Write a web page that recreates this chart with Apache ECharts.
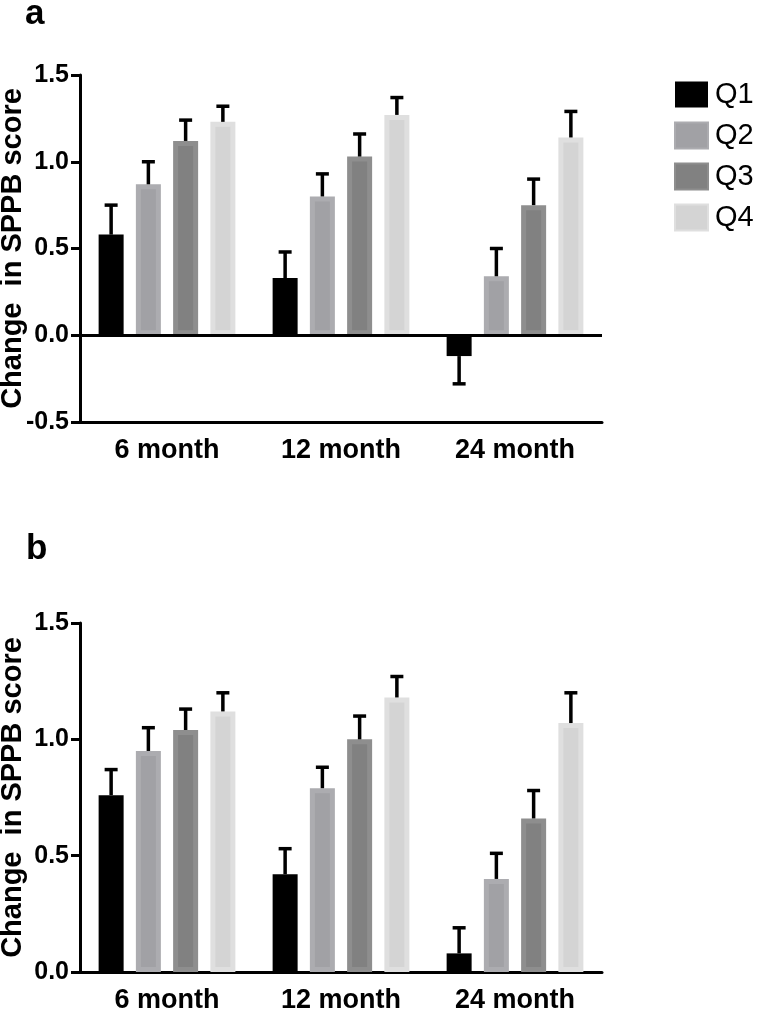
<!DOCTYPE html>
<html>
<head>
<meta charset="utf-8">
<script src="https://cdn.jsdelivr.net/npm/echarts@6/dist/echarts.min.js"></script>
<style>
  html, body { margin: 0; padding: 0; background: #fff; }
  #chart { width: 757px; height: 1010px; }
</style>
</head>
<body>
<div id="chart"></div>
<script>
// categories and tick labels
var categories = ['6 month', '12 month', '24 month'];
var quartiles = ['Q1', 'Q2', 'Q3', 'Q4'];
var ticksA = [-0.5, 0.0, 0.5, 1.0, 1.5];
var ticksB = [0.0, 0.5, 1.0, 1.5];

// panel a: mean change and SE
var aQ1 = [0.58, 0.33, -0.12];
var aQ2 = [0.87, 0.80, 0.34];
var aQ3 = [1.12, 1.03, 0.75];
var aQ4 = [1.23, 1.27, 1.14];
var aQ1Err = [0.17, 0.15, 0.16];
var aQ2Err = [0.13, 0.13, 0.16];
var aQ3Err = [0.12, 0.13, 0.15];
var aQ4Err = [0.09, 0.10, 0.15];

// panel b
var bQ1 = [0.76, 0.42, 0.08];
var bQ2 = [0.95, 0.79, 0.40];
var bQ3 = [1.04, 1.00, 0.66];
var bQ4 = [1.12, 1.18, 1.07];
var bQ1Err = [0.11, 0.11, 0.11];
var bQ2Err = [0.10, 0.09, 0.11];
var bQ3Err = [0.09, 0.10, 0.12];
var bQ4Err = [0.08, 0.09, 0.13];

var FONT = 'Liberation Sans, Arial, sans-serif';
var fills = ['#000000', '#a1a1a5', '#818181', '#d4d4d4'];
var borders = ['#000000', '#acacb0', '#8e8e8e', '#dfdfdf'];
var BAR_W = 25;
var BAR_GAP = 0.49;              // as fraction of bar width
var STEP = BAR_W * (1 + BAR_GAP); // centre-to-centre distance of bars

var chart = echarts.init(document.getElementById('chart'));

function yAxisOf(gridIndex, min, max) {
    return {
        type: 'value',
        gridIndex: gridIndex,
        min: min,
        max: max,
        interval: 0.5,
        name: 'Change  in SPPB score',
        nameLocation: 'middle',
        nameGap: 53,
        nameMoveOverlap: false,
        nameTextStyle: { fontFamily: FONT, fontWeight: 'bold', fontSize: 29, color: '#000' },
        axisLine: { show: true, lineStyle: { color: '#000', width: 3 } },
        axisTick: { show: true, length: 9, lineStyle: { color: '#000', width: 3 } },
        axisLabel: {
            margin: 11,
            fontFamily: FONT, fontWeight: 'bold', fontSize: 25, color: '#000',
            formatter: function (v) { return v.toFixed(1); }
        },
        splitLine: { show: false }
    };
}

function xAxisOf(gridIndex) {
    return {
        type: 'category',
        gridIndex: gridIndex,
        data: categories,
        axisLine: { onZero: false, lineStyle: { color: '#000', width: 3 } },
        axisTick: { alignWithLabel: true, length: 10, lineStyle: { color: '#000', width: 3 } },
        axisLabel: { margin: 15, fontFamily: FONT, fontWeight: 'bold', fontSize: 27, color: '#000' },
        splitLine: { show: false }
    };
}

function barSeries(name, k, data, gridIndex) {
    return {
        name: name,
        type: 'bar',
        xAxisIndex: gridIndex,
        yAxisIndex: gridIndex,
        data: data,
        barWidth: BAR_W,
        barGap: (BAR_GAP * 100) + '%',
        itemStyle: { color: fills[k], borderColor: borders[k], borderWidth: k === 0 ? 0 : 5 },
        emphasis: { disabled: true },
        z: 2
    };
}

// error bars drawn one-sided, away from zero
function errSeries(k, means, errs, gridIndex) {
    var data = means.map(function (m, i) { return [i, m, errs[i]]; });
    return {
        type: 'custom',
        name: 'err' + gridIndex + k,
        xAxisIndex: gridIndex,
        yAxisIndex: gridIndex,
        data: data,
        z: 5,
        silent: true,
        renderItem: function (params, api) {
            var i = api.value(0), m = api.value(1), e = api.value(2);
            var end = m >= 0 ? m + e : m - e;
            var p0 = api.coord([i, m]);
            var p1 = api.coord([i, end]);
            var x = p0[0] + (k - 1.5) * STEP;
            var st = { stroke: '#000', lineWidth: 3.5 };
            return {
                type: 'group',
                children: [
                    { type: 'line', shape: { x1: x, y1: p0[1], x2: x, y2: p1[1] }, style: st },
                    { type: 'line', shape: { x1: x - 6.5, y1: p1[1], x2: x + 6.5, y2: p1[1] }, style: st }
                ]
            };
        }
    };
}

var aMeans = [aQ1, aQ2, aQ3, aQ4];
var aErrs = [aQ1Err, aQ2Err, aQ3Err, aQ4Err];
var bMeans = [bQ1, bQ2, bQ3, bQ4];
var bErrs = [bQ1Err, bQ2Err, bQ3Err, bQ4Err];

var series = [];
quartiles.forEach(function (q, k) { series.push(barSeries(q, k, aMeans[k], 0)); });
quartiles.forEach(function (q, k) { series.push(barSeries(q, k, bMeans[k], 1)); });
// zero line for panel a
series[3].markLine = {
    silent: true,
    symbol: 'none',
    label: { show: false },
    lineStyle: { color: '#000', width: 3, type: 'solid' },
    data: [{ yAxis: 0 }]
};
quartiles.forEach(function (q, k) { series.push(errSeries(k, aMeans[k], aErrs[k], 0)); });
quartiles.forEach(function (q, k) { series.push(errSeries(k, bMeans[k], bErrs[k], 1)); });

var option = {
    animation: false,
    backgroundColor: '#fff',
    title: [
        { text: 'a', left: 25, top: -3, padding: 0, textStyle: { fontFamily: FONT, fontWeight: 'bold', fontSize: 35, color: '#000' } },
        { text: 'b', left: 26, top: 532, padding: 0, textStyle: { fontFamily: FONT, fontWeight: 'bold', fontSize: 35, color: '#000' } }
    ],
    legend: {
        data: quartiles,
        orient: 'vertical',
        left: 674,
        top: 80,
        padding: 0,
        icon: 'rect',
        itemWidth: 33,
        itemHeight: 26,
        itemGap: 12,
        selectedMode: false,
        textStyle: { fontFamily: FONT, fontSize: 29, lineHeight: 26, color: '#000', padding: [0, 0, 0, 2] }
    },
    grid: [
        { left: 80, right: 155, top: 75, height: 347, outerBoundsMode: 'none' },
        { left: 80, right: 155, top: 623, height: 349, outerBoundsMode: 'none' }
    ],
    xAxis: [xAxisOf(0), xAxisOf(1)],
    yAxis: [
        yAxisOf(0, ticksA[0], ticksA[ticksA.length - 1]),
        yAxisOf(1, ticksB[0], ticksB[ticksB.length - 1])
    ],
    series: series
};

chart.setOption(option);
</script>
</body>
</html>
